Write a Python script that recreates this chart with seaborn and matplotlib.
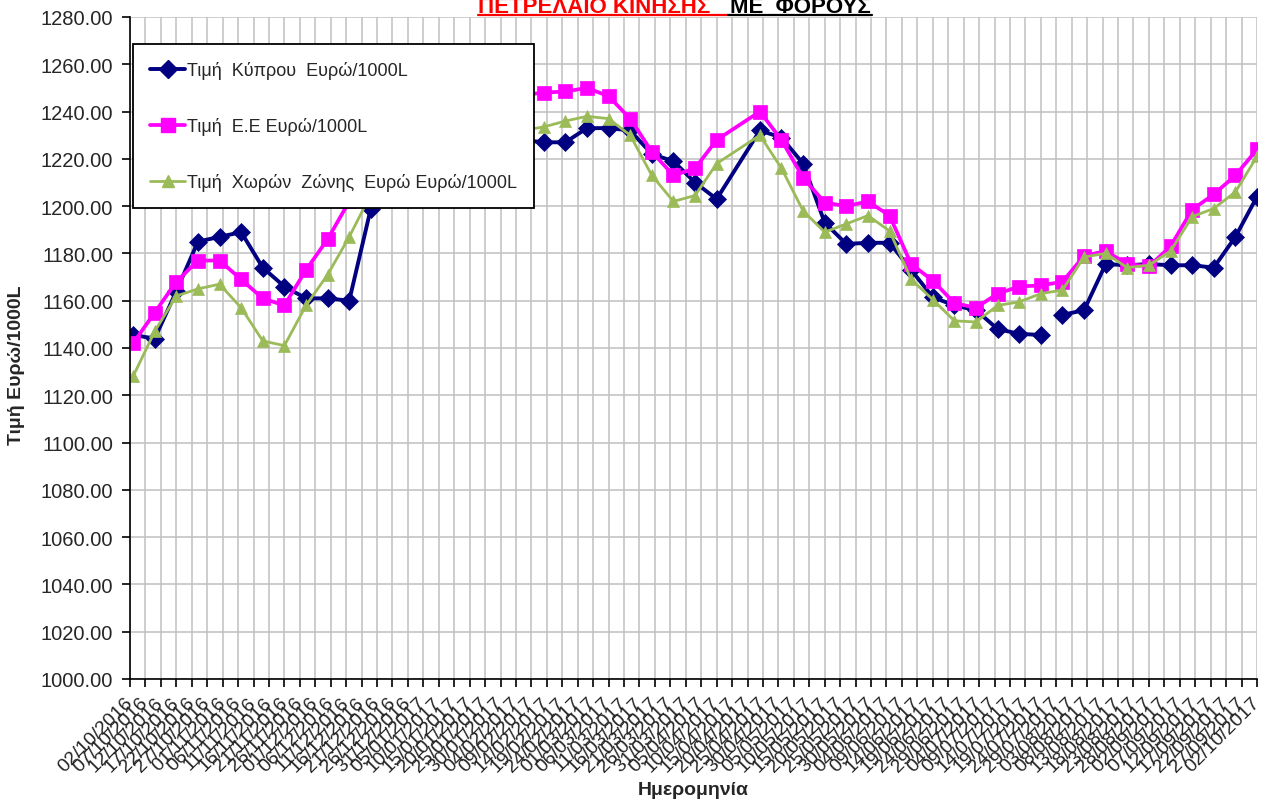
import pandas as pd
import matplotlib
matplotlib.use("Agg")
import matplotlib.pyplot as plt
from matplotlib.lines import Line2D
import seaborn as sns

# weekly dates (Mondays), 17/04/2017 missing
dates = [
    "03/10/2016", "10/10/2016", "17/10/2016", "24/10/2016", "31/10/2016", "07/11/2016",
    "14/11/2016", "21/11/2016", "28/11/2016", "05/12/2016", "12/12/2016", "19/12/2016",
    "26/12/2016", "02/01/2017", "09/01/2017", "16/01/2017", "23/01/2017", "30/01/2017",
    "06/02/2017", "13/02/2017", "20/02/2017", "27/02/2017", "06/03/2017", "13/03/2017",
    "20/03/2017", "27/03/2017", "03/04/2017", "10/04/2017", "24/04/2017", "01/05/2017",
    "08/05/2017", "15/05/2017", "22/05/2017", "29/05/2017", "05/06/2017", "12/06/2017",
    "19/06/2017", "26/06/2017", "03/07/2017", "10/07/2017", "17/07/2017", "24/07/2017",
    "31/07/2017", "07/08/2017", "14/08/2017", "21/08/2017", "28/08/2017", "04/09/2017",
    "11/09/2017", "18/09/2017", "25/09/2017", "02/10/2017",
]
cyprus = [
    1145.5, 1144, 1164, 1185, 1187, 1189, 1174, 1166, 1161, 1161, 1160, 1199,
    1212, 1222, 1230, 1232, 1232, 1230, 1228,
    1227, 1227, 1233, 1233, 1232, 1222, 1219, 1210, 1203,
    1232, 1229, 1218, 1193, 1184, 1184.5, 1184.5, 1173, 1161.5, 1158, 1156, 1148,
    1146, 1145.5, 1154, 1156, 1175.5, 1175, 1175.5, 1175, 1175, 1174, 1187, 1204,
]
eu = [
    1142, 1155, 1168, 1177, 1177, 1169, 1161, 1158, 1173, 1186, 1202, 1215,
    1228, 1237, 1243, 1246, 1247, 1247, 1247,
    1248, 1248.5, 1250, 1246.5, 1237, 1223, 1213, 1216, 1228,
    1240, 1228, 1212, 1201.5, 1200, 1202, 1196, 1175.5, 1168.5, 1159, 1157, 1163,
    1166, 1166.5, 1168, 1179, 1181, 1175.5, 1174.5, 1183, 1198.5, 1205, 1213, 1224,
]
zone = [
    1128, 1147, 1162, 1165, 1167, 1157, 1143, 1141, 1158, 1171, 1187, 1205,
    1215, 1224, 1230, 1233, 1234, 1233, 1232,
    1233.5, 1236, 1238, 1237, 1230, 1213, 1202, 1204.5, 1218,
    1230, 1216, 1198, 1189, 1192.5, 1196, 1189.5, 1169, 1160.5, 1151.5, 1151, 1158,
    1159.5, 1163, 1164.5, 1178.5, 1180, 1174, 1175, 1181, 1195.5, 1199, 1206, 1221,
]
cyprus_gap_after = "24/07/2017"

series_labels = [
    "Τιμή  Κύπρου  Ευρώ/1000L",
    "Τιμή  Ε.Ε Ευρώ/1000L",
    "Τιμή  Χωρών  Ζώνης  Ευρώ Ευρώ/1000L",
]
colors = ["#000080", "#ff00ff", "#9bbb59"]
markers = ["D", "s", "^"]

sns.set_style("white")
plt.rcParams['font.family'] = ['Liberation Sans', 'DejaVu Sans']

df = pd.DataFrame({
    'date': pd.to_datetime(dates, format='%d/%m/%Y'),
    'cyprus': cyprus, 'eu': eu, 'zone': zone,
})
df['seg'] = (df['date'] > pd.to_datetime(cyprus_gap_after, format='%d/%m/%Y')).astype(int)
df['one'] = 0

fig = plt.figure(figsize=(12.66, 8.03), dpi=100)
ax = fig.add_axes([130 / 1266, 1 - 680 / 803, 1127 / 1266, 662 / 803])

styles = [dict(lw=2.8, ms=9.5), dict(lw=2.7, ms=9.5), dict(lw=2.0, ms=8)]
for col, unit, c, m, st in zip(['cyprus', 'eu', 'zone'], ['seg', 'one', 'one'], colors, markers, styles):
    sns.lineplot(data=df, x='date', y=col, units=unit, estimator=None, ax=ax,
                 color=c, marker=m, markeredgecolor=c, markerfacecolor=c,
                 markeredgewidth=0.5, linewidth=st['lw'], markersize=st['ms'],
                 legend=False)

# date axis, major unit 5 days
tick_dates = pd.date_range('2016-10-02', '2017-10-02', freq='5D')
ax.set_xlim(tick_dates[0], tick_dates[-1])
ax.set_xticks(tick_dates)
ax.set_xticklabels([d.strftime('%d/%m/%Y') for d in tick_dates], rotation=45,
                   ha='right', va='center', rotation_mode='anchor', fontsize=14)
ax.set_ylim(1000, 1280)
yt = list(range(1000, 1281, 20))
ax.set_yticks(yt)
ax.set_yticklabels([f"{v:.2f}" for v in yt], fontsize=14.5)

ax.grid(True, color='#c0c0c0', lw=1.1)
ax.set_axisbelow(True)
for s in ['top', 'right']:
    ax.spines[s].set_visible(False)
for s in ['left', 'bottom']:
    ax.spines[s].set_color('black')
    ax.spines[s].set_linewidth(1.2)
ax.tick_params(axis='both', direction='out', length=6, width=1.2, color='black',
               left=True, bottom=True)
ax.tick_params(axis='y', pad=6)
ax.tick_params(axis='x', pad=9)

ax.set_xlabel('Ημερομηνία', fontsize=14, fontweight='bold')
ax.set_ylabel('Τιμή Ευρώ/1000L', fontsize=14, fontweight='bold')
ax.xaxis.set_label_coords(0.5, (680 - 782) / 662)
ax.yaxis.set_label_coords((25 - 130) / 1127, 0.475)

handles = [Line2D([], [], color=c, marker=m, markersize=st['ms'], lw=st['lw'],
                  markeredgecolor=c) for c, m, st in zip(colors, markers, styles)]
leg = ax.legend(handles, series_labels, loc='upper left',
                bbox_to_anchor=(3 / 1127, (680 - 45) / 662), borderaxespad=0,
                frameon=True, fancybox=False, edgecolor='black', framealpha=1,
                fontsize=13, handlelength=1.95, handletextpad=0.1, labelspacing=2.1,
                borderpad=0.95, markerscale=1.0)
leg.get_frame().set_linewidth(1.3)
leg.set_zorder(10)

# title, partly cut at the top
t1 = fig.text(478 / 1266, 1 - 13 / 803, 'ΠΕΤΡΕΛΑΙΟ ΚΙΝΗΣΗΣ', color='red',
              fontsize=16, fontweight='bold', va='baseline', ha='left')
t2 = fig.text(730 / 1266, 1 - 13 / 803, 'ΜΕ  ΦΟΡΟΥΣ', color='black',
              fontsize=16, fontweight='bold', va='baseline', ha='left')
fig.add_artist(Line2D([478 / 1266, 728 / 1266], [1 - 16 / 803] * 2, color='red', lw=1.6))
fig.add_artist(Line2D([728 / 1266, 872 / 1266], [1 - 16 / 803] * 2, color='black', lw=1.6))

fig.savefig('out.png', dpi=100)
